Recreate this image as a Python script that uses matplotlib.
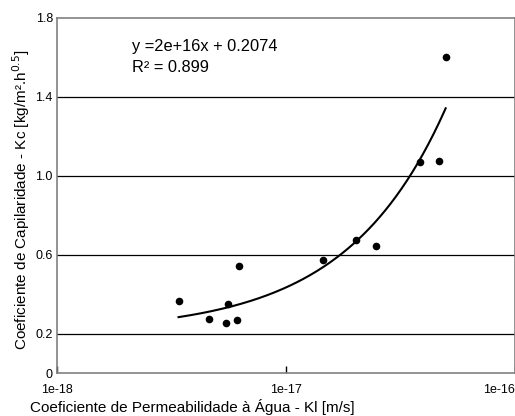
import matplotlib
matplotlib.use("Agg")
import matplotlib.pyplot as plt
import numpy as np

# permeability (m/s) vs capillarity coefficient
kl = [3.4e-18, 4.6e-18, 5.5e-18, 5.6e-18, 6.15e-18, 6.25e-18,
      1.46e-17, 2.02e-17, 2.48e-17, 3.87e-17, 4.68e-17, 5.0e-17]
kc = [0.365, 0.273, 0.253, 0.349, 0.271, 0.546,
      0.576, 0.674, 0.643, 1.069, 1.076, 1.602]

# linear trendline as fitted in the original sheet
slope = 2.27e16
intercept = 0.2074
eq_text = "y =2e+16x + 0.2074"
r2_text = "R² = 0.899"

yticks = [0, 0.2, 0.6, 1.0, 1.4, 1.8]
ytick_labels = ["0", "0.2", "0.6", "1.0", "1.4", "1.8"]
xticks = [1e-18, 1e-17, 1e-16]
xtick_labels = ["1e-18", "1e-17", "1e-16"]

plt.rcParams["font.family"] = ["Liberation Sans", "DejaVu Sans"]

fig = plt.figure(figsize=(5.15, 4.16), dpi=100)
ax = fig.add_axes([57 / 515, 1 - 373.3 / 416, 457.5 / 515, (373.3 - 18) / 416])

ax.set_xscale("log")
ax.set_xlim(1e-18, 1e-16)
ax.set_ylim(0, 1.8)

for g in yticks[1:-1]:
    ax.axhline(g, color="black", lw=0.9, zorder=1)

xs = np.logspace(np.log10(min(kl)), np.log10(max(kl)), 200)
ax.plot(xs, slope * xs + intercept, color="black", lw=1.5, zorder=2)
ax.scatter(kl, kc, s=20, color="black", zorder=3)

ax.set_yticks(yticks)
ax.set_yticklabels(ytick_labels, fontsize=9)
ax.set_xticks(xticks)
ax.set_xticklabels(xtick_labels, fontsize=9)
ax.xaxis.set_minor_locator(matplotlib.ticker.NullLocator())
ax.get_xticklabels()[-1].set_ha("right")
ax.tick_params(axis="y", length=0, pad=3)
ax.tick_params(axis="x", direction="in", length=5, width=1, color="black", pad=8)

for s in ax.spines.values():
    s.set_color("#808080")
    s.set_linewidth(1.2)

ax.set_xlabel("Coeficiente de Permeabilidade à Água - Kl [m/s]", fontsize=11)
ax.xaxis.set_label_coords((192 - 57) / 457.5, -0.072)
ax.set_ylabel(r"Coeficiente de Capilaridade - Kc [kg/m².h$^{0.5}$]", fontsize=11)
ax.yaxis.set_label_coords(-0.055, 0.49)

fig.text(132 / 515, 1 - 47 / 416, eq_text, fontsize=11.8, va="center")
fig.text(132 / 515, 1 - 67 / 416, r2_text, fontsize=11.8, va="center")

fig.savefig("out.png", dpi=100)
